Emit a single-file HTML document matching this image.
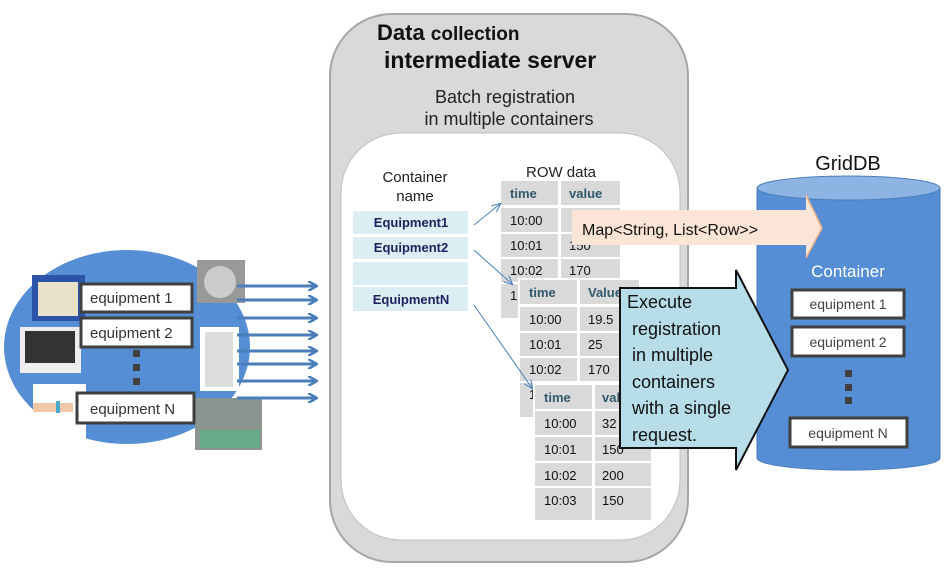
<!DOCTYPE html>
<html><head><meta charset="utf-8"><style>
html,body{margin:0;padding:0;background:#fff;}
svg{display:block;font-family:"Liberation Sans",sans-serif;}
.c{font-size:13px;fill:#111;}
.h{font-size:13px;font-weight:bold;fill:#31596e;}
</style></head><body>
<svg width="951" height="571" viewBox="0 0 951 571">
<defs>
<marker id="ah" markerWidth="10" markerHeight="10" refX="8" refY="5" orient="auto" markerUnits="userSpaceOnUse"><path d="M0,0 L9,5 L0,10" fill="none" stroke="#4a7ebb" stroke-width="2.5"/></marker>
<marker id="sa" markerWidth="10" markerHeight="10" refX="8" refY="5" orient="auto" markerUnits="userSpaceOnUse"><path d="M0,1 L9,5 L0,9" fill="none" stroke="#4a7ebb" stroke-width="1"/></marker>
</defs>
<!-- left ellipse -->
<ellipse cx="127" cy="347" rx="123" ry="97" fill="#558ed5"/>
<rect x="32" y="275" width="53" height="46" fill="#2b53a8"/><rect x="38" y="282" width="40" height="34" fill="#e8e2c8"/>
<rect x="20" y="327" width="61" height="46" fill="#eee"/><rect x="25" y="331" width="50" height="32" fill="#333"/>
<rect x="33" y="384" width="53" height="56" fill="#fff"/><rect x="33" y="403" width="40" height="9" fill="#f0c8a8"/><rect x="56" y="401" width="4" height="12" fill="#4ac"/>
<rect x="197" y="260" width="48" height="43" fill="#999"/><circle cx="220" cy="282" r="16" fill="#ccc"/>
<rect x="200" y="327" width="39" height="64" fill="#fff"/><rect x="205" y="332" width="28" height="55" fill="#ddd"/>
<rect x="195" y="398" width="67" height="52" fill="#8a9590"/><rect x="200" y="430" width="60" height="18" fill="#6a8"/>
<g fill="#fff" stroke="#404040" stroke-width="3">
<rect x="81" y="284" width="111" height="28"/><rect x="81" y="318" width="111" height="29"/><rect x="77" y="393" width="117" height="30"/>
</g>
<g font-size="15" fill="#333"><text x="90" y="303">equipment 1</text><text x="90" y="338">equipment 2</text><text x="90" y="414">equipment N</text></g>
<g fill="#404040"><rect x="133" y="350" width="7" height="7"/><rect x="133" y="364" width="7" height="7"/><rect x="133" y="378" width="7" height="7"/></g>
<g stroke="#4a7ebb" stroke-width="3" marker-end="url(#ah)">
<line x1="237" y1="286" x2="316" y2="286"/><line x1="237" y1="300" x2="316" y2="300"/><line x1="237" y1="318" x2="316" y2="318"/><line x1="237" y1="335" x2="316" y2="335"/><line x1="237" y1="351" x2="316" y2="351"/><line x1="237" y1="364" x2="316" y2="364"/><line x1="237" y1="381" x2="316" y2="381"/><line x1="237" y1="398" x2="316" y2="398"/>
</g>
<!-- server -->
<rect x="330" y="14" width="358" height="548" rx="62" fill="#d9d9d9" stroke="#a6a6a6" stroke-width="2"/>
<rect x="341" y="133" width="339" height="407" rx="60" fill="#fff" stroke="#bfbfbf" stroke-width="1"/>
<text x="377" y="40" font-size="22" font-weight="bold" fill="#111">Data <tspan font-size="19">collection</tspan></text>
<text x="384" y="68" font-size="23" font-weight="bold" fill="#111">intermediate server</text>
<text x="505" y="103" font-size="18" text-anchor="middle" fill="#222">Batch registration</text>
<text x="509" y="125" font-size="18" text-anchor="middle" fill="#222">in multiple containers</text>
<text x="415" y="182" font-size="15" text-anchor="middle" fill="#222">Container</text>
<text x="415" y="201" font-size="15" text-anchor="middle" fill="#222">name</text>
<text x="561" y="177" font-size="15" text-anchor="middle" fill="#222">ROW data</text>
<g fill="#daeef3"><rect x="353" y="211" width="115" height="23"/><rect x="353" y="237" width="115" height="22"/><rect x="353" y="262" width="115" height="23"/><rect x="353" y="287" width="115" height="24"/></g>
<g font-size="13" font-weight="bold" fill="#1f1f5f" text-anchor="middle"><text x="411" y="227">Equipment1</text><text x="411" y="252">Equipment2</text><text x="411" y="304">EquipmentN</text></g>
<!-- table 1 -->
<g fill="#d9d9d9"><rect x="501" y="181" width="57" height="24"/><rect x="561" y="181" width="59" height="24"/>
<rect x="501" y="208" width="57" height="24"/><rect x="561" y="208" width="59" height="24"/>
<rect x="501" y="234" width="57" height="23"/><rect x="561" y="234" width="59" height="23"/>
<rect x="501" y="259" width="57" height="23"/><rect x="561" y="259" width="59" height="23"/>
<rect x="501" y="284" width="57" height="34"/><rect x="561" y="284" width="59" height="34"/></g>
<text class="h" x="510" y="198">time</text><text class="h" x="569" y="198">value</text>
<text class="c" x="510" y="225">10:00</text><text class="c" x="510" y="250">10:01</text><text class="c" x="569" y="250">150</text><text class="c" x="510" y="275">10:02</text><text class="c" x="569" y="275">170</text><text class="c" x="510" y="300">1</text>
<!-- table 2 -->
<rect x="518" y="278" width="123" height="141" fill="#fff"/>
<g fill="#d9d9d9"><rect x="520" y="280" width="57" height="24"/><rect x="580" y="280" width="59" height="24"/>
<rect x="520" y="307" width="57" height="24"/><rect x="580" y="307" width="59" height="24"/>
<rect x="520" y="333" width="57" height="23"/><rect x="580" y="333" width="59" height="23"/>
<rect x="520" y="358" width="57" height="23"/><rect x="580" y="358" width="59" height="23"/>
<rect x="520" y="383" width="57" height="34"/><rect x="580" y="383" width="59" height="34"/></g>
<text class="h" x="529" y="297">time</text><text class="h" x="588" y="297">Value</text>
<text class="c" x="529" y="324">10:00</text><text class="c" x="588" y="324">19.5</text><text class="c" x="529" y="349">10:01</text><text class="c" x="588" y="349">25</text><text class="c" x="529" y="374">10:02</text><text class="c" x="588" y="374">170</text><text class="c" x="529" y="399">1</text>
<!-- table 3 -->
<rect x="533" y="383" width="120" height="139" fill="#fff"/>
<g fill="#d9d9d9"><rect x="535" y="385" width="57" height="24"/><rect x="595" y="385" width="56" height="24"/>
<rect x="535" y="411" width="57" height="24"/><rect x="595" y="411" width="56" height="24"/>
<rect x="535" y="437" width="57" height="24"/><rect x="595" y="437" width="56" height="24"/>
<rect x="535" y="463" width="57" height="23"/><rect x="595" y="463" width="56" height="23"/>
<rect x="535" y="488" width="57" height="32"/><rect x="595" y="488" width="56" height="32"/></g>
<text class="h" x="544" y="402">time</text><text class="h" x="602" y="402">value</text>
<text class="c" x="544" y="428">10:00</text><text class="c" x="602" y="428">32</text><text class="c" x="544" y="454">10:01</text><text class="c" x="602" y="454">150</text><text class="c" x="544" y="480">10:02</text><text class="c" x="602" y="480">200</text><text class="c" x="544" y="505">10:03</text><text class="c" x="602" y="505">150</text>
<!-- connectors -->
<g stroke="#4a7ebb" stroke-width="1" fill="none" marker-end="url(#sa)">
<line x1="474" y1="225" x2="500" y2="204"/><line x1="474" y1="250" x2="512" y2="284"/><line x1="474" y1="305" x2="532" y2="388"/>
</g>
<!-- cylinder -->
<path d="M757,188 L757,458 A91,12 0 0 0 940,458 L940,188" fill="#558ed5" stroke="#4a7ebb"/>
<ellipse cx="848.5" cy="188" rx="91.5" ry="12" fill="#8eb4e3" stroke="#4a7ebb"/>
<text x="848" y="170" font-size="20" text-anchor="middle" fill="#111">GridDB</text>
<text x="848" y="277" font-size="17" text-anchor="middle" fill="#fff">Container</text>
<g fill="#fff" stroke="#404040" stroke-width="3"><rect x="792" y="290" width="112" height="28"/><rect x="792" y="327" width="112" height="29"/><rect x="790" y="418" width="117" height="29"/></g>
<g font-size="14" fill="#444" text-anchor="middle"><text x="848" y="309">equipment 1</text><text x="848" y="347">equipment 2</text><text x="848" y="438">equipment N</text></g>
<g fill="#404040"><rect x="845" y="370" width="7" height="7"/><rect x="845" y="384" width="7" height="7"/><rect x="845" y="397" width="7" height="7"/></g>
<!-- map arrow -->
<path d="M572,210 L806,210 L806,195 L822,228 L806,258 L806,245 L572,245 Z" fill="#fce4d6"/>
<path d="M806,195 L822,228 L806,258" fill="none" stroke="#f4b183" stroke-width="1.5"/>
<text x="582" y="235" font-size="16" fill="#111">Map&lt;String, List&lt;Row&gt;&gt;</text>
<!-- callout -->
<path d="M620,288 L736,288 L736,270 L788,370 L736,470 L736,448 L620,448 Z" fill="#b7dde8" stroke="#111" stroke-width="2"/>
<g font-size="18" fill="#111"><text x="627" y="308">Execute</text><text x="632" y="335">registration</text><text x="632" y="361">in multiple</text><text x="632" y="388">containers</text><text x="632" y="414">with a single</text><text x="632" y="441">request.</text></g>
</svg>
</body></html>
